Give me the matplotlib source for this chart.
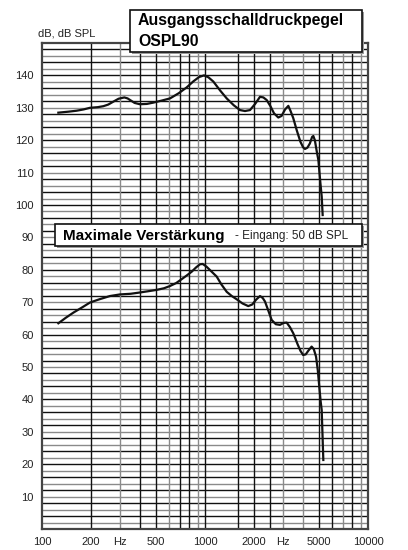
import matplotlib

matplotlib.use("Agg")
import matplotlib.pyplot as plt
from matplotlib.patches import Rectangle

# OSPL90 curve (upper)
ospl_f = [126, 145, 163, 180, 197, 220, 238, 255, 274, 295, 320, 335, 347, 370,
          399, 440, 482, 540, 610, 690, 772, 850, 920, 986, 1050, 1125, 1240,
          1359, 1500, 1640, 1760, 1888, 2030, 2175, 2280, 2390, 2520, 2650, 2816,
          2950, 3100, 3245, 3350, 3480, 3653, 3850, 4000, 4106, 4250, 4400, 4540,
          4620, 4720, 4850, 4960, 5100, 5200, 5270]
ospl_db = [128.5, 128.8, 129.1, 129.5, 130.0, 130.2, 130.5, 131.0, 131.9, 132.8,
           133.2, 132.9, 132.4, 131.5, 131.1, 131.2, 131.6, 132.2, 132.9, 134.5,
           136.3, 138.2, 139.5, 140.0, 139.4, 138.1, 135.3, 132.9, 130.8, 129.3,
           129.0, 129.3, 131.2, 133.4, 133.2, 132.4, 130.5, 128.3, 127.0, 127.5,
           129.5, 130.6, 129.0, 126.8, 123.1, 119.5, 117.8, 117.3, 117.7, 119.0,
           121.0, 121.3, 120.0, 116.5, 113.9, 107.0, 102.6, 96.9]

# Maximale Verstaerkung curve (lower)
gain_f = [126, 140, 156, 175, 197, 225, 261, 301, 350, 399, 450, 505, 560, 610,
          665, 719, 775, 828, 880, 931, 968, 1020, 1074, 1180, 1260, 1359, 1460,
          1565, 1700, 1843, 1950, 2060, 2175, 2260, 2334, 2450, 2566, 2720, 2884,
          3030, 3170, 3320, 3480, 3700, 3850, 4000, 4150, 4300, 4510, 4650, 4800,
          4920, 5025, 5120, 5200, 5320]
gain_db = [63.5, 65.2, 66.8, 68.3, 69.9, 70.9, 71.9, 72.4, 72.6, 73.0, 73.4, 73.8,
           74.3, 75.0, 75.9, 77.1, 78.3, 79.4, 80.7, 81.7, 81.8, 81.0, 79.9, 77.9,
           75.5, 73.2, 71.9, 70.9, 69.6, 68.8, 69.3, 70.8, 71.9, 71.3, 70.2, 67.3,
           64.5, 63.2, 63.0, 63.6, 63.7, 62.3, 60.4, 57.0, 55.0, 53.7, 53.9, 55.0,
           56.3, 55.5, 53.2, 49.0, 43.9, 39.5, 36.7, 21.3]

y_ticks = [10, 20, 30, 40, 50, 60, 70, 80, 90, 100, 110, 120, 130, 140]
x_ticks = [100, 200, 300, 500, 1000, 2000, 3000, 5000, 10000]
x_labels = ["100", "200", "Hz", "500", "1000", "2000", "Hz", "5000", "10000"]

grid_black = [200, 400, 500, 700, 800, 1000, 1600, 2000, 2500, 5000, 6000, 8000]
grid_gray = [300, 600, 900, 3000, 4000, 7000, 9000]

W, H = 408, 550
fig = plt.figure(figsize=(W / 100, H / 100), dpi=100)
ax = fig.add_axes([42 / W, 1 - 529 / H, 326 / W, 486 / H])
ax.set_xscale("log")
ax.set_xlim(100, 10000)
ax.set_ylim(0, 150)

# dense paper grid: every 2 dB, black/gray alternating
for i, v in enumerate(range(2, 150, 2)):
    ax.axhline(v, color="#111111" if i % 2 else "#8a8a8a", lw=1.0, zorder=1)
for v in grid_black:
    ax.axvline(v, color="#111111", lw=1.0, zorder=1)
for v in grid_gray:
    ax.axvline(v, color="#8a8a8a", lw=1.0, zorder=1)

ax.plot(ospl_f, ospl_db, color="#111111", lw=1.6, zorder=3,
        solid_joinstyle="round")
ax.plot(gain_f, gain_db, color="#111111", lw=1.6, zorder=3,
        solid_joinstyle="round")

for s in ax.spines.values():
    s.set_color("#444444")
    s.set_linewidth(1.6)

tick_font = {"family": ["Liberation Sans", "DejaVu Sans"], "size": 8}
ax.set_yticks(y_ticks)
ax.set_yticklabels([str(t) for t in y_ticks], **tick_font, color="#222222")
ax.set_xticks(x_ticks)
ax.set_xticklabels(x_labels, **tick_font, color="#222222")
ax.minorticks_off()
ax.tick_params(length=0, pad=6)

fig.text(38 / W, 1 - 33 / H, "dB, dB SPL", ha="left", va="center",
         color="#222222", **tick_font)

bold = {"family": ["Liberation Sans", "DejaVu Sans"], "weight": "bold"}


def box(x0, y0, x1, y1):
    fig.patches.append(Rectangle((x0 / W + 2 / W, 1 - y1 / H - 2 / H),
                                 (x1 - x0) / W, (y1 - y0) / H,
                                 transform=fig.transFigure, facecolor="#9a9a9a",
                                 edgecolor="none", zorder=5))
    fig.patches.append(Rectangle((x0 / W, 1 - y1 / H), (x1 - x0) / W, (y1 - y0) / H,
                                 transform=fig.transFigure, facecolor="white",
                                 edgecolor="#111111", lw=1.2, zorder=6))


# title box, overlapping top of the frame
box(130, 10, 362, 52)
fig.text(138 / W, 1 - 21 / H, "Ausgangsschalldruckpegel", ha="left", va="center",
         size=11.4, zorder=7, **bold)
fig.text(138 / W, 1 - 42 / H, "OSPL90", ha="left", va="center",
         size=11.4, zorder=7, **bold)

box(55, 224, 362, 246)
fig.text(63 / W, 1 - 236 / H, "Maximale Verstärkung", ha="left", va="center",
         size=11, zorder=7, **bold)
fig.text(235 / W, 1 - 236 / H, "- Eingang: 50 dB SPL", ha="left", va="center",
         size=8.5, zorder=7, color="#222222",
         family=["Liberation Sans", "DejaVu Sans"])

fig.savefig("out.png", dpi=100)
